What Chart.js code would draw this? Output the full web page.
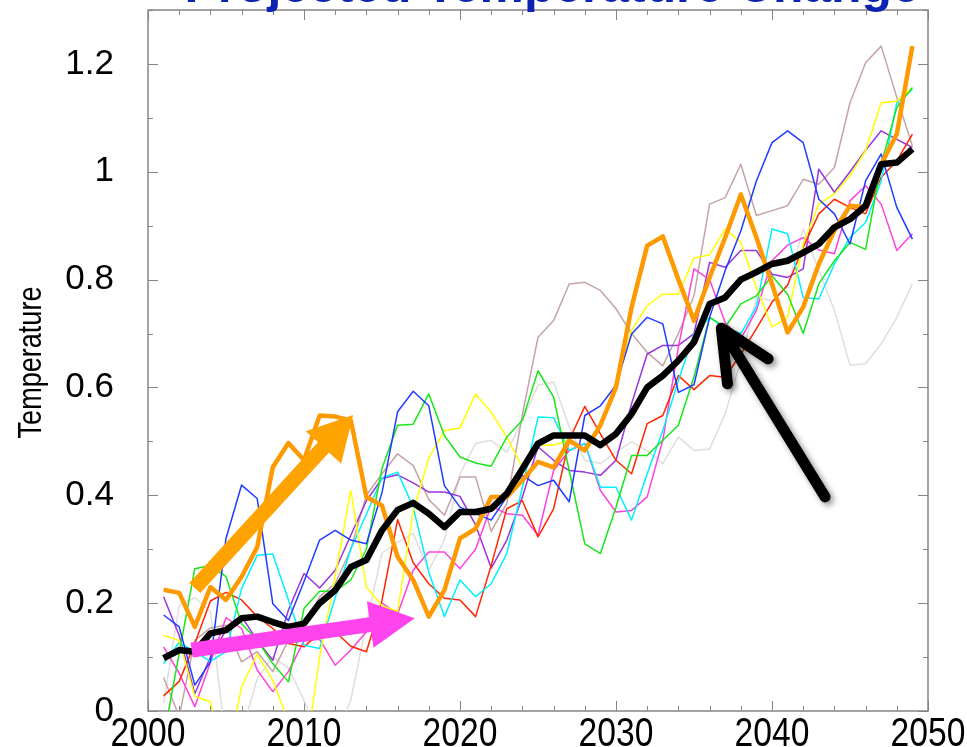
<!DOCTYPE html>
<html>
<head>
<meta charset="utf-8">
<title>Projected Temperature Change</title>
<script src="https://cdn.jsdelivr.net/npm/chart.js@4.4.1/dist/chart.umd.min.js"></script>
<style>
  html, body { margin: 0; padding: 0; background: #fff; overflow: hidden; }
  #wrap { position: relative; width: 967px; height: 747px; }
</style>
</head>
<body>
<div id="wrap"><canvas id="tempChart"></canvas></div>
<script>
// Years of the model runs
const years = [2001, 2002, 2003, 2004, 2005, 2006, 2007, 2008, 2009, 2010,
  2011, 2012, 2013, 2014, 2015, 2016, 2017, 2018, 2019, 2020,
  2021, 2022, 2023, 2024, 2025, 2026, 2027, 2028, 2029, 2030,
  2031, 2032, 2033, 2034, 2035, 2036, 2037, 2038, 2039, 2040,
  2041, 2042, 2043, 2044, 2045, 2046, 2047, 2048, 2049];

// Ensemble mean (thick black)
const ensembleMean = [0.098, 0.113, 0.11, 0.144, 0.15, 0.172, 0.175, 0.165, 0.156, 0.162,
  0.2, 0.224, 0.267, 0.28, 0.335, 0.373, 0.386, 0.366, 0.341, 0.369,
  0.369, 0.375, 0.403, 0.449, 0.496, 0.511, 0.511, 0.511, 0.493, 0.514,
  0.551, 0.6, 0.622, 0.65, 0.684, 0.755, 0.767, 0.8, 0.814, 0.829,
  0.835, 0.85, 0.866, 0.897, 0.912, 0.937, 1.014, 1.017, 1.042];

// Highlighted single run (thick orange)
const runOrange = [0.225, 0.219, 0.156, 0.23, 0.206, 0.249, 0.304, 0.452, 0.497, 0.465,
  0.548, 0.546, 0.539, 0.397, 0.381, 0.286, 0.243, 0.175, 0.224, 0.32,
  0.338, 0.397, 0.397, 0.428, 0.462, 0.452, 0.502, 0.483, 0.53, 0.6,
  0.749, 0.863, 0.88, 0.8, 0.724, 0.804, 0.878, 0.958, 0.878, 0.792,
  0.702, 0.749, 0.829, 0.891, 0.937, 0.934, 1.014, 1.07, 1.233];

// Other ensemble members (thin lines)
const runBlue = [0.178, 0.156, 0.048, 0.091, 0.32, 0.419, 0.394, 0.199, 0.168, 0.24,
  0.317, 0.335, 0.317, 0.31, 0.405, 0.555, 0.593, 0.566, 0.418, 0.378,
  0.366, 0.354, 0.397, 0.437, 0.418, 0.428, 0.388, 0.548, 0.566, 0.604,
  0.699, 0.73, 0.718, 0.591, 0.605, 0.73, 0.817, 0.89, 0.983, 1.054,
  1.076, 1.054, 0.949, 0.922, 0.866, 0.983, 1.033, 0.934, 0.875];
const runGreen = [-0.05, 0.107, 0.264, 0.27, 0.249, 0.162, 0.131, 0.088, 0.054, 0.19,
  0.222, 0.222, 0.243, 0.3, 0.45, 0.53, 0.532, 0.588, 0.511, 0.471,
  0.46, 0.454, 0.508, 0.539, 0.631, 0.582, 0.446, 0.31, 0.292, 0.378,
  0.474, 0.474, 0.502, 0.53, 0.62, 0.73, 0.712, 0.755, 0.77, 0.807,
  0.773, 0.7, 0.792, 0.835, 0.869, 0.856, 1.014, 1.119, 1.156];
const runYellow = [0.14, 0.131, 0.027, 0.017, -0.1, 0.045, 0.105, 0.057, -0.02, -0.1,
  0.1, 0.25, 0.409, 0.23, 0.195, 0.185, 0.37, 0.469, 0.52, 0.525,
  0.588, 0.554, 0.508, 0.452, 0.493, 0.493, 0.502, 0.483, 0.527, 0.613,
  0.706, 0.752, 0.773, 0.773, 0.84, 0.846, 0.894, 0.869, 0.786, 0.712,
  0.73, 0.866, 0.94, 0.959, 0.993, 1.039, 1.128, 1.131, 1.156];
const runCyan = [0.088, 0.127, 0.11, 0.092, 0.11, 0.227, 0.289, 0.291, 0.206, 0.122,
  0.116, 0.21, 0.3, 0.365, 0.432, 0.443, 0.378, 0.258, 0.175, 0.243,
  0.212, 0.236, 0.292, 0.415, 0.545, 0.544, 0.483, 0.496, 0.415, 0.415,
  0.354, 0.44, 0.52, 0.613, 0.7, 0.73, 0.71, 0.7, 0.75, 0.894,
  0.885, 0.767, 0.764, 0.829, 0.878, 0.906, 0.983, 1.128, 1.153];
const runRed = [0.028, 0.055, 0.125, 0.204, 0.22, 0.206, 0.175, 0.153, 0.125, 0.119,
  0.145, 0.147, 0.12, 0.11, 0.205, 0.355, 0.275, 0.236, 0.209, 0.206,
  0.175, 0.27, 0.375, 0.39, 0.323, 0.375, 0.502, 0.565, 0.514, 0.465,
  0.44, 0.533, 0.548, 0.622, 0.596, 0.622, 0.619, 0.662, 0.709, 0.758,
  0.79, 0.86, 0.922, 0.949, 0.934, 0.922, 0.99, 1.02, 1.07];
const runMagenta = [0.119, 0.07, 0.008, 0.09, 0.173, 0.153, 0.076, 0.036, 0.073, 0.13,
  0.133, 0.085, 0.113, 0.147, 0.2, 0.18, 0.261, 0.295, 0.295, 0.264,
  0.3, 0.38, 0.366, 0.363, 0.326, 0.446, 0.483, 0.496, 0.409, 0.369,
  0.372, 0.397, 0.502, 0.675, 0.82, 0.8, 0.72, 0.69, 0.743, 0.835,
  0.864, 0.878, 0.855, 0.848, 0.946, 0.974, 0.94, 0.854, 0.885];
const runPurple = [0.212, 0.14, 0.032, 0.1, 0.15, 0.175, 0.131, 0.094, 0.187, 0.255,
  0.228, 0.261, 0.326, 0.39, 0.431, 0.438, 0.423, 0.406, 0.406, 0.398,
  0.345, 0.265, 0.317, 0.397, 0.49, 0.465, 0.446, 0.443, 0.437, 0.465,
  0.57, 0.662, 0.678, 0.678, 0.7, 0.832, 0.823, 0.854, 0.854, 0.81,
  0.804, 0.82, 1.005, 0.962, 1.0, 1.04, 1.076, 1.06, 1.045];
const runTan = [0.062, -0.01, 0.131, 0.154, 0.159, 0.091, 0.11, 0.073, 0.131, 0.156,
  0.212, 0.236, 0.3, 0.4, 0.44, 0.477, 0.455, 0.392, 0.363, 0.434,
  0.434, 0.333, 0.385, 0.55, 0.693, 0.724, 0.792, 0.795, 0.78, 0.746,
  0.7, 0.665, 0.64, 0.7, 0.77, 0.94, 0.952, 1.014, 0.919, 0.928,
  0.937, 0.986, 0.977, 1.008, 1.128, 1.202, 1.233, 1.138, 1.048];
const runGray = [0.014, 0.196, 0.21, 0.185, -0.06, -0.04, 0.06, 0.1, 0.08, 0.02,
  -0.05, -0.05, 0.02, 0.162, 0.293, 0.313, 0.329, 0.261, 0.317, 0.44,
  0.496, 0.502, 0.48, 0.539, 0.604, 0.61, 0.527, 0.465, 0.459, 0.48,
  0.499, 0.483, 0.459, 0.508, 0.483, 0.486, 0.551, 0.65, 0.767, 0.761,
  0.786, 0.894, 0.817, 0.743, 0.641, 0.644, 0.681, 0.73, 0.792];

// Tick labels
const xTickValues = [2000, 2010, 2020, 2030, 2040, 2050];
const yTickValues = [0, 0.2, 0.4, 0.6, 0.8, 1, 1.2];
const yTickLabels = ['0', '0.2', '0.4', '0.6', '0.8', '1', '1.2'];

const chartTitle = 'Projected Temperature Change';
const yAxisTitle = 'Temperature';

// Hand drawn arrows, given in data units: [fromYear, fromValue, toYear, toValue]
const arrowOrange = [2003.0, 0.228, 2013.15, 0.549];
const arrowMagenta = [2002.8, 0.113, 2017.1, 0.172];
const arrowBlack = [2043.4, 0.397, 2036.75, 0.71];

const sansFont = '"Liberation Sans", Arial, sans-serif';

function series(values, color, width) {
  return {
    data: values.map((v, i) => ({ x: years[i], y: v })),
    borderColor: color,
    borderWidth: width,
    pointRadius: 0,
    tension: 0,
    fill: false,
    borderJoinStyle: 'round'
  };
}

// Box round the plot with inward ticks on all four sides
const frameTicks = {
  id: 'frameTicks',
  beforeDatasetsDraw(chart) {
    const { ctx, chartArea: a, scales: { x, y } } = chart;
    ctx.save();
    ctx.strokeStyle = '#858585';
    ctx.lineWidth = 1.5;
    ctx.strokeRect(a.left, a.top, a.right - a.left, a.bottom - a.top);
    ctx.lineWidth = 1;
    ctx.beginPath();
    for (let yr = 2000; yr <= 2050; yr += 2) {
      const px = Math.round(x.getPixelForValue(yr)) + 0.5;
      const len = yr % 10 === 0 ? 10 : 5;
      ctx.moveTo(px, a.bottom); ctx.lineTo(px, a.bottom - len);
      ctx.moveTo(px, a.top); ctx.lineTo(px, a.top + len);
    }
    for (let i = 0; i <= 13; i++) {
      const py = Math.round(y.getPixelForValue(i / 10)) + 0.5;
      const len = i % 2 === 0 ? 10 : 5;
      ctx.moveTo(a.left, py); ctx.lineTo(a.left + len, py);
      ctx.moveTo(a.right, py); ctx.lineTo(a.right - len, py);
    }
    ctx.stroke();
    ctx.restore();
  }
};

function filledArrow(ctx, x0, y0, x1, y1, shaft, headLen, headW, color) {
  const ang = Math.atan2(y1 - y0, x1 - x0);
  const len = Math.hypot(x1 - x0, y1 - y0);
  ctx.save();
  ctx.translate(x0, y0);
  ctx.rotate(ang);
  ctx.fillStyle = color;
  ctx.beginPath();
  ctx.moveTo(0, -shaft / 2);
  ctx.lineTo(len - headLen, -shaft / 2);
  ctx.lineTo(len - headLen, -headW / 2);
  ctx.lineTo(len, 0);
  ctx.lineTo(len - headLen, headW / 2);
  ctx.lineTo(len - headLen, shaft / 2);
  ctx.lineTo(0, shaft / 2);
  ctx.closePath();
  ctx.fill();
  ctx.restore();
}

function strokedArrow(ctx, x0, y0, x1, y1, width, headLen, headAng) {
  const back = Math.atan2(y0 - y1, x0 - x1);
  ctx.save();
  ctx.strokeStyle = '#000';
  ctx.lineWidth = width;
  ctx.lineCap = 'round';
  ctx.lineJoin = 'round';
  ctx.shadowColor = 'rgba(0,0,0,0.45)';
  ctx.shadowBlur = 6;
  ctx.shadowOffsetX = 3;
  ctx.shadowOffsetY = 3;
  ctx.beginPath();
  ctx.moveTo(x0, y0);
  ctx.lineTo(x1, y1);
  ctx.moveTo(x1 + headLen * Math.cos(back + headAng), y1 + headLen * Math.sin(back + headAng));
  ctx.lineTo(x1, y1);
  ctx.lineTo(x1 + headLen * Math.cos(back - headAng), y1 + headLen * Math.sin(back - headAng));
  ctx.stroke();
  ctx.restore();
}

const arrowsAndText = {
  id: 'arrowsAndText',
  afterDatasetsDraw(chart) {
    const { ctx, scales: { x, y } } = chart;
    const px = a => [x.getPixelForValue(a[0]), y.getPixelForValue(a[1]),
                     x.getPixelForValue(a[2]), y.getPixelForValue(a[3])];
    const o = px(arrowOrange);
    filledArrow(ctx, o[0], o[1], o[2], o[3], 15, 44, 48, '#ffa300');
    const m = px(arrowMagenta);
    filledArrow(ctx, m[0], m[1], m[2], m[3], 15, 45, 47, '#ff44ee');
    const b = px(arrowBlack);
    strokedArrow(ctx, b[0], b[1], b[2], b[3], 11, 56, 0.44);
  },
  afterDraw(chart) {
    const { ctx, chartArea: a, scales: { x } } = chart;
    ctx.save();
    ctx.fillStyle = '#000';

    // year labels, horizontally squeezed like a condensed face
    ctx.font = '41px ' + sansFont;
    ctx.textAlign = 'center';
    ctx.textBaseline = 'alphabetic';
    xTickValues.forEach(v => {
      ctx.save();
      ctx.translate(x.getPixelForValue(v), a.bottom + 35);
      ctx.scale(0.82, 1);
      ctx.fillText(String(v), 0, 0);
      ctx.restore();
    });

    // y axis title
    ctx.save();
    ctx.font = '33px ' + sansFont;
    ctx.translate(41, (a.top + a.bottom) / 2 + 2);
    ctx.rotate(-Math.PI / 2);
    ctx.scale(0.82, 1);
    ctx.fillText(yAxisTitle, 0, 0);
    ctx.restore();

    // title sits mostly above the picture, only its lower edge shows
    ctx.font = 'bold 44px ' + sansFont;
    const size = 44 * 735 / ctx.measureText(chartTitle).width;
    ctx.font = 'bold ' + size.toFixed(1) + 'px ' + sansFont;
    ctx.fillStyle = '#0b23b0';
    ctx.fillText(chartTitle, 552, 2);
    ctx.restore();
  }
};

new Chart(document.getElementById('tempChart'), {
  type: 'line',
  data: {
    datasets: [
      series(ensembleMean, '#000000', 6.5),
      series(runOrange, '#ff9900', 4.5),
      series(runBlue, '#1f3cff', 1.5),
      series(runGreen, '#19e619', 1.5),
      series(runYellow, '#ffff00', 1.5),
      series(runCyan, '#00f0ff', 1.5),
      series(runRed, '#ff2600', 1.5),
      series(runMagenta, '#ff40dd', 1.5),
      series(runPurple, '#9933dd', 1.5),
      series(runTan, '#c4a4a4', 1.5),
      series(runGray, '#dedede', 1.5)
    ]
  },
  options: {
    responsive: true,
    maintainAspectRatio: false,
    animation: false,
    devicePixelRatio: 1,
    layout: { padding: { top: 10, right: 39, left: 0, bottom: 0 } },
    plugins: {
      legend: { display: false },
      tooltip: { enabled: false },
      title: { display: false }
    },
    scales: {
      x: {
        type: 'linear',
        min: 2000,
        max: 2050,
        grid: { display: false },
        border: { display: false },
        afterBuildTicks: s => { s.ticks = xTickValues.map(v => ({ value: v })); },
        afterFit: s => { s.height = 36; s.paddingLeft = 0; s.paddingRight = 0; },
        ticks: { display: false }
      },
      y: {
        min: 0,
        max: 1.3,
        grid: { display: false },
        border: { display: false },
        afterBuildTicks: s => { s.ticks = yTickValues.map(v => ({ value: v })); },
        afterFit: s => { s.width = 148; s.paddingTop = 0; s.paddingBottom = 0; },
        ticks: {
          padding: 26,
          color: '#000',
          font: { family: sansFont, size: 35 },
          callback: (v, i) => yTickLabels[i]
        }
      }
    }
  },
  plugins: [frameTicks, arrowsAndText]
});
</script>
</body>
</html>
